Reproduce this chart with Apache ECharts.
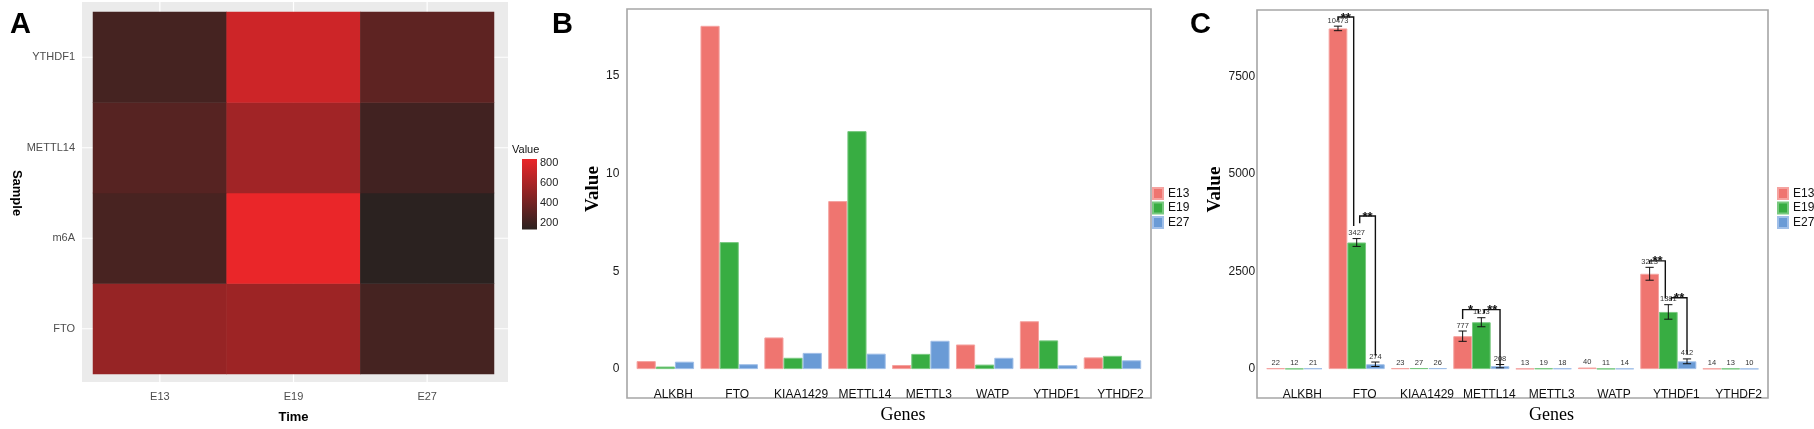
<!DOCTYPE html>
<html>
<head>
<meta charset="utf-8">
<title>m6A genes</title>
<script src="https://cdn.jsdelivr.net/npm/echarts@6/dist/echarts.min.js"></script>
<style>
  html, body { margin: 0; padding: 0; background: #fff; }
  #chart { width: 1814px; height: 429px; }
</style>
</head>
<body>
<div id="chart"></div>
<script>
// panel A - heatmap
var times = ['E13', 'E19', 'E27']
var samples = ['FTO', 'm6A', 'METTL14', 'YTHDF1']
var heatFTO = [530, 554, 232]
var heatM6A = [243, 840, 135]
var heatMETTL14 = [294, 572, 217]
var heatYTHDF1 = [232, 732, 324]
var heatMin = 135
var heatMax = 840
var heatTicks = [0, 200, 400, 600, 800]

// panel B
var genes = ['ALKBH', 'FTO', 'KIAA1429', 'METTL14', 'METTL3', 'WATP', 'YTHDF1', 'YTHDF2']
var groups = ['E13', 'E19', 'E27']
var bE13 = [0.41, 17.57, 1.62, 8.6, 0.21, 1.26, 2.45, 0.6]
var bE19 = [0.13, 6.5, 0.58, 12.18, 0.78, 0.23, 1.47, 0.68]
var bE27 = [0.38, 0.25, 0.83, 0.79, 1.45, 0.58, 0.2, 0.45]
var bTicks = [0, 5, 10, 15]

// panel C
var cE13 = [22, 8731, 23, 844, 13, 40, 2443, 14]
var cE19 = [12, 3245, 27, 1201, 19, 11, 1465, 13]
var cE27 = [21, 124, 26, 75, 18, 14, 199, 10]
var errE13 = [0, 58, 0, 132, 0, 0, 165, 0]
var errE19 = [0, 100, 0, 116, 0, 0, 186, 0]
var errE27 = [0, 57, 0, 42, 0, 0, 62, 0]
var lblE13 = [22, 10473, 23, 777, 13, 40, 3213, 14]
var lblE19 = [12, 3427, 27, 1213, 19, 11, 1381, 13]
var lblE27 = [21, 274, 26, 208, 18, 14, 412, 10]
var cTicks = [0, 2500, 5000, 7500]
// gene index, from group, to group, top, left end, right end
var brackets = [
  [1, 0, 1, 9025, 8937, 3667],
  [1, 1, 2, 3923, 3741, 340],
  [3, 0, 1, 1524, 1283, 1430],
  [3, 1, 2, 1524, 1430, 90],
  [6, 0, 1, 2773, 2700, 1807],
  [6, 1, 2, 1830, 1755, 390]
]
var bracketMarks = ['**', '**', '*', '**', '**', '**']

var fills = ['#ef7570', '#38ad42', '#6a9bd6']
var edges = ['#f5a3a0', '#79c980', '#a0bfe8']
var heatLow = '#2b2220'
var heatHigh = '#ea2629'
var sans = 'Liberation Sans'
var serif = 'Liberation Serif'

var chart = echarts.init(document.getElementById('chart'))

var heatRows = [heatFTO, heatM6A, heatMETTL14, heatYTHDF1]
var heatData = []
heatRows.forEach(function (row, yi) {
  row.forEach(function (v, xi) { heatData.push([xi, yi, v]) })
})

function barSeries(name, g, data, xi, yi) {
  return {
    type: 'bar', name: name, xAxisIndex: xi, yAxisIndex: yi, data: data,
    barGap: '0%', barCategoryGap: '10%',
    itemStyle: { color: fills[g], borderColor: edges[g], borderWidth: 1 }
  }
}

var cVals = [cE13, cE19, cE27]
var cErrs = [errE13, errE19, errE27]
var cLbls = [lblE13, lblE19, lblE27]
var errData = []
cVals.forEach(function (vals, g) {
  vals.forEach(function (v, i) { errData.push([i, g, v, cErrs[g][i], cLbls[g][i]]) })
})

function renderErr(params, api) {
  var i = api.value(0), g = api.value(1), v = api.value(2), e = api.value(3)
  var bw = api.size([1, 0])[0] * 0.9 / 3
  var cx = api.coord([i, 0])[0] + (g - 1) * bw
  var yTop = api.coord([i, v + e])[1]
  var yBot = api.coord([i, v - e])[1]
  var cap = bw * 0.22
  var st = { stroke: '#111', lineWidth: 1 }
  var kids = []
  if (e > 0) {
    kids.push({ type: 'line', shape: { x1: cx, y1: yTop, x2: cx, y2: yBot }, style: st })
    kids.push({ type: 'line', shape: { x1: cx - cap, y1: yTop, x2: cx + cap, y2: yTop }, style: st })
    kids.push({ type: 'line', shape: { x1: cx - cap, y1: yBot, x2: cx + cap, y2: yBot }, style: st })
  }
  kids.push({
    type: 'text',
    style: { text: String(api.value(4)), x: cx, y: yTop - 1.5, align: 'center', verticalAlign: 'bottom',
      fontSize: 7.5, fontFamily: sans, fill: '#333' }
  })
  return { type: 'group', children: kids }
}

function renderBracket(params, api) {
  var i = api.value(0), a = api.value(1), b = api.value(2)
  var bw = api.size([1, 0])[0] * 0.9 / 3
  var c0 = api.coord([i, 0])[0]
  var xl = c0 + (a - 1) * bw + (a === 1 ? 3 : 0)
  var xr = c0 + (b - 1) * bw - (b === 1 ? 3 : 0)
  var yt = api.coord([i, api.value(3)])[1]
  var yl = api.coord([i, api.value(4)])[1]
  var yr = api.coord([i, api.value(5)])[1]
  return {
    type: 'group',
    children: [
      { type: 'polyline', shape: { points: [[xl, yl], [xl, yt], [xr, yt], [xr, yr]] },
        style: { stroke: '#111', lineWidth: 1.4, fill: null } },
      { type: 'text', style: { text: bracketMarks[params.dataIndex], x: (xl + xr) / 2, y: yt + 1,
        align: 'center', verticalAlign: 'middle', fontSize: 13, fontWeight: 'bold', fontFamily: sans, fill: '#111' } }
    ]
  }
}

function panelLine(vertical) {
  return function (params, api) {
    var cs = params.coordSys
    var p = api.coord([api.value(0), api.value(1)])
    if (vertical) {
      return { type: 'line', shape: { x1: p[0], y1: cs.y - 10, x2: p[0], y2: cs.y + cs.height + 8 },
        style: { stroke: '#fff', lineWidth: 1.2 } }
    }
    return { type: 'line', shape: { x1: cs.x - 11, y1: p[1], x2: cs.x + cs.width + 14, y2: p[1] },
      style: { stroke: '#fff', lineWidth: 1.2 } }
  }
}

var geneLabel = { interval: 0, fontSize: 12, margin: 20, color: '#111', padding: [0, 0, 0, 16] }
var plain = function (v) { return String(v) }

chart.setOption({
  animation: false,
  textStyle: { fontFamily: sans },
  grid: [
    { left: 93, top: 12, width: 401, height: 362 },
    { left: 522, top: 153, width: 15, height: 90 },
    { left: 633.4, top: 9, width: 511, height: 372 },
    { left: 1263.2, top: 10, width: 498.6, height: 370.7 }
  ],
  xAxis: [
    { gridIndex: 0, type: 'category', data: times, axisLine: { show: false }, axisTick: { show: false },
      axisLabel: { fontSize: 11, margin: 17, color: '#4d4d4d' },
      name: 'Time', nameLocation: 'middle', nameGap: 37,
      nameTextStyle: { fontSize: 13, fontWeight: 'bold', color: '#000' } },
    { gridIndex: 1, type: 'category', data: [''], show: false },
    { gridIndex: 2, type: 'category', data: genes, axisLine: { show: false }, axisTick: { show: false },
      axisLabel: geneLabel, name: 'Genes', nameLocation: 'middle', nameGap: 32,
      nameTextStyle: { fontFamily: serif, fontSize: 18, color: '#000', padding: [0, 0, 0, 28] } },
    { gridIndex: 3, type: 'category', data: genes, axisLine: { show: false }, axisTick: { show: false },
      axisLabel: geneLabel, name: 'Genes', nameLocation: 'middle', nameGap: 31,
      nameTextStyle: { fontFamily: serif, fontSize: 18, color: '#000', padding: [0, 0, 0, 78] } }
  ],
  yAxis: [
    { gridIndex: 0, type: 'category', data: samples, axisLine: { show: false }, axisTick: { show: false },
      axisLabel: { fontSize: 11, margin: 18, color: '#4d4d4d' },
      name: 'Sample', nameLocation: 'middle', nameRotate: -90, nameGap: 64,
      nameTextStyle: { fontSize: 13, fontWeight: 'bold', color: '#000' } },
    { gridIndex: 1, type: 'value', position: 'right', min: heatTicks[0], max: 900,
      interval: heatTicks[1] - heatTicks[0], splitLine: { show: false }, axisLine: { show: false },
      axisTick: { inside: true, length: 3, lineStyle: { color: '#fff' } },
      axisLabel: { fontSize: 11, margin: 3, color: '#222', showMaxLabel: false,
        formatter: function (v) { return v === 0 ? '' : String(v) } } },
    { gridIndex: 1, type: 'value', position: 'left', min: heatTicks[0], max: 900,
      interval: heatTicks[1] - heatTicks[0], splitLine: { show: false }, axisLine: { show: false },
      axisTick: { inside: true, length: 3, lineStyle: { color: '#fff' } }, axisLabel: { show: false } },
    { gridIndex: 2, type: 'value', min: bTicks[0], max: 18.43, interval: bTicks[1] - bTicks[0],
      splitLine: { show: false }, axisLine: { show: false }, axisTick: { show: false },
      axisLabel: { fontSize: 12, color: '#1a1a1a', margin: 14, showMaxLabel: false, formatter: plain },
      name: 'Value', nameLocation: 'middle', nameGap: 31,
      nameTextStyle: { fontFamily: serif, fontSize: 19, fontWeight: 'bold', color: '#000' } },
    { gridIndex: 3, type: 'value', min: cTicks[0], max: 9203, interval: cTicks[1] - cTicks[0],
      splitLine: { show: false }, axisLine: { show: false }, axisTick: { show: false },
      axisLabel: { fontSize: 12, color: '#1a1a1a', margin: 8, showMaxLabel: false, formatter: plain },
      name: 'Value', nameLocation: 'middle', nameGap: 38,
      nameTextStyle: { fontFamily: serif, fontSize: 19, fontWeight: 'bold', color: '#000' } }
  ],
  visualMap: {
    show: false, seriesIndex: 0, min: heatMin, max: heatMax,
    inRange: { color: [heatLow, heatHigh] }
  },
  legend: [
    { data: groups, orient: 'vertical', left: 1152, top: 187, icon: 'rect', itemWidth: 10, itemHeight: 11,
      itemGap: 1.5, padding: 0, textStyle: { fontSize: 12, color: '#111' }, selectedMode: false },
    { data: groups, orient: 'vertical', left: 1777, top: 187, icon: 'rect', itemWidth: 10, itemHeight: 11,
      itemGap: 1.5, padding: 0, textStyle: { fontSize: 12, color: '#111' }, selectedMode: false }
  ],
  graphic: [
    { type: 'rect', z: 0, silent: true, shape: { x: 82, y: 2, width: 426, height: 380 }, style: { fill: '#ebebeb' } },
    { type: 'rect', z: 0, silent: true, shape: { x: 627, y: 9, width: 524, height: 389 },
      style: { fill: null, stroke: '#a6a6a6', lineWidth: 1.6 } },
    { type: 'rect', z: 0, silent: true, shape: { x: 1257, y: 10, width: 511, height: 388 },
      style: { fill: null, stroke: '#a6a6a6', lineWidth: 1.6 } },
    { type: 'text', x: 10, y: 10, style: { text: 'A', fontSize: 29, fontWeight: 'bold', fontFamily: sans, fill: '#000' } },
    { type: 'text', x: 552, y: 10, style: { text: 'B', fontSize: 29, fontWeight: 'bold', fontFamily: sans, fill: '#000' } },
    { type: 'text', x: 1190, y: 10, style: { text: 'C', fontSize: 29, fontWeight: 'bold', fontFamily: sans, fill: '#000' } },
    { type: 'text', x: 512, y: 144, style: { text: 'Value', fontSize: 11, fontFamily: sans, fill: '#111' } }
  ],
  series: [
    { type: 'heatmap', xAxisIndex: 0, yAxisIndex: 0, data: heatData, z: 2 },
    { type: 'custom', xAxisIndex: 0, yAxisIndex: 0, z: 1, silent: true,
      data: times.map(function (t, i) { return [i, 0] }), renderItem: panelLine(true) },
    { type: 'custom', xAxisIndex: 0, yAxisIndex: 0, z: 1, silent: true,
      data: samples.map(function (s, j) { return [0, j] }), renderItem: panelLine(false) },
    { type: 'bar', name: 'cbBase', xAxisIndex: 1, yAxisIndex: 1, stack: 'cb', barWidth: '100%', silent: true,
      data: [heatMin], itemStyle: { color: 'rgba(0,0,0,0)' } },
    { type: 'bar', name: 'cbSpan', xAxisIndex: 1, yAxisIndex: 1, stack: 'cb', barWidth: '100%', silent: true,
      data: [heatMax - heatMin],
      itemStyle: { color: new echarts.graphic.LinearGradient(0, 1, 0, 0, [
        { offset: 0, color: heatLow }, { offset: 1, color: heatHigh }]) } },
    barSeries('E13', 0, bE13, 2, 3),
    barSeries('E19', 1, bE19, 2, 3),
    barSeries('E27', 2, bE27, 2, 3),
    barSeries('E13', 0, cE13, 3, 4),
    barSeries('E19', 1, cE19, 3, 4),
    barSeries('E27', 2, cE27, 3, 4),
    { type: 'custom', xAxisIndex: 3, yAxisIndex: 4, z: 3, silent: true, data: errData,
      encode: { x: 0, y: 2 }, renderItem: renderErr },
    { type: 'custom', xAxisIndex: 3, yAxisIndex: 4, z: 3, silent: true, data: brackets,
      encode: { x: 0, y: 3 }, renderItem: renderBracket }
  ]
})
</script>
</body>
</html>
